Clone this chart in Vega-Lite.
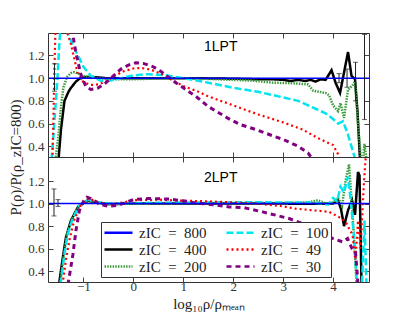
{
  "$schema": "https://vega.github.io/schema/vega-lite/v6.json",
  "background": "white",
  "padding": {"left": 7, "top": 32, "right": 5, "bottom": 5},
  "bounds": "flush",
  "config": {
    "view": {"stroke": "#333", "strokeWidth": 1},
    "axis": {"labelFont": "Liberation Serif", "labelFontSize": 13, "labelColor": "#333", "titleFont": "Liberation Serif", "titleFontSize": 15, "titleFontWeight": "normal", "titleColor": "#222", "domain": false, "grid": false, "tickColor": "#444", "tickSize": -5, "labelPadding": 9},
    "legend": {"labelFont": "Liberation Serif", "labelFontSize": 15, "labelColor": "#222"}
  },
  "datasets": {
    "top": [
      {"z":"800","x":-1.69,"y":1.0},{"z":"800","x":4.72,"y":1.0},
      {"z":"400","x":-1.5,"y":0.28},{"z":"400","x":-1.45,"y":0.55},{"z":"400","x":-1.38,"y":0.8},{"z":"400","x":-1.3,"y":0.88},{"z":"400","x":-1.25,"y":0.915},{"z":"400","x":-1.15,"y":0.97},{"z":"400","x":-1.08,"y":0.995},{"z":"400","x":-0.95,"y":1.01},{"z":"400","x":-0.8,"y":1.01},{"z":"400","x":-0.5,"y":0.998},{"z":"400","x":0,"y":1.0},{"z":"400","x":0.5,"y":1.0},{"z":"400","x":1.0,"y":1.0},{"z":"400","x":1.5,"y":0.998},{"z":"400","x":2.0,"y":0.995},{"z":"400","x":2.5,"y":0.99},{"z":"400","x":2.8,"y":0.99},{"z":"400","x":3.0,"y":0.985},{"z":"400","x":3.15,"y":0.975},{"z":"400","x":3.3,"y":0.985},{"z":"400","x":3.45,"y":0.975},{"z":"400","x":3.55,"y":0.985},{"z":"400","x":3.65,"y":0.97},{"z":"400","x":3.75,"y":0.99},{"z":"400","x":3.85,"y":0.985},{"z":"400","x":3.97,"y":1.07},{"z":"400","x":4.05,"y":0.96},{"z":"400","x":4.14,"y":0.87},{"z":"400","x":4.22,"y":1.05},{"z":"400","x":4.3,"y":1.23},{"z":"400","x":4.37,"y":1.02},{"z":"400","x":4.44,"y":0.99},{"z":"400","x":4.49,"y":0.7},{"z":"400","x":4.54,"y":0.28},
      {"z":"200","x":-1.56,"y":0.28},{"z":"200","x":-1.5,"y":0.5},{"z":"200","x":-1.45,"y":0.75},{"z":"200","x":-1.4,"y":0.92},{"z":"200","x":-1.33,"y":1.01},{"z":"200","x":-1.25,"y":1.045},{"z":"200","x":-1.18,"y":1.053},{"z":"200","x":-1.1,"y":1.04},{"z":"200","x":-1.0,"y":1.02},{"z":"200","x":-0.85,"y":1.005},{"z":"200","x":-0.6,"y":0.995},{"z":"200","x":-0.3,"y":0.99},{"z":"200","x":0,"y":0.99},{"z":"200","x":0.5,"y":0.997},{"z":"200","x":1.0,"y":1.0},{"z":"200","x":1.5,"y":0.993},{"z":"200","x":2.0,"y":0.985},{"z":"200","x":2.4,"y":0.978},{"z":"200","x":2.8,"y":0.96},{"z":"200","x":3.2,"y":0.955},{"z":"200","x":3.5,"y":0.945},{"z":"200","x":3.6,"y":0.89},{"z":"200","x":3.75,"y":0.877},{"z":"200","x":3.85,"y":0.87},{"z":"200","x":3.92,"y":0.85},{"z":"200","x":4.0,"y":0.76},{"z":"200","x":4.1,"y":0.71},{"z":"200","x":4.15,"y":0.78},{"z":"200","x":4.22,"y":0.65},{"z":"200","x":4.3,"y":0.9},{"z":"200","x":4.38,"y":0.93},{"z":"200","x":4.44,"y":0.97},{"z":"200","x":4.5,"y":0.6},{"z":"200","x":4.56,"y":0.28},{"z":"200","x":4.6,"y":0.28},{"z":"200","x":4.63,"y":0.42},{"z":"200","x":4.67,"y":0.28},
      {"z":"100","x":-1.64,"y":0.28},{"z":"100","x":-1.6,"y":0.5},{"z":"100","x":-1.56,"y":0.75},{"z":"100","x":-1.52,"y":1.0},{"z":"100","x":-1.49,"y":1.25},{"z":"100","x":-1.46,"y":1.45},{"z":"100","x":-1.36,"y":1.45},{"z":"100","x":-1.3,"y":1.38},{"z":"100","x":-1.22,"y":1.3},{"z":"100","x":-1.15,"y":1.235},{"z":"100","x":-1.0,"y":1.1},{"z":"100","x":-0.85,"y":1.02},{"z":"100","x":-0.65,"y":0.977},{"z":"100","x":-0.45,"y":0.98},{"z":"100","x":-0.25,"y":1.0},{"z":"100","x":0,"y":1.025},{"z":"100","x":0.3,"y":1.035},{"z":"100","x":0.65,"y":1.025},{"z":"100","x":1.0,"y":1.0},{"z":"100","x":1.5,"y":0.96},{"z":"100","x":2.0,"y":0.915},{"z":"100","x":2.5,"y":0.88},{"z":"100","x":3.0,"y":0.83},{"z":"100","x":3.3,"y":0.8},{"z":"100","x":3.6,"y":0.74},{"z":"100","x":3.85,"y":0.69},{"z":"100","x":4.0,"y":0.64},{"z":"100","x":4.1,"y":0.6},{"z":"100","x":4.2,"y":0.62},{"z":"100","x":4.3,"y":0.5},{"z":"100","x":4.4,"y":0.35},{"z":"100","x":4.45,"y":0.28},
      {"z":"49","x":-1.62,"y":0.28},{"z":"49","x":-1.6,"y":0.7},{"z":"49","x":-1.58,"y":1.1},{"z":"49","x":-1.56,"y":1.45},{"z":"49","x":-1.4,"y":1.5},{"z":"49","x":-1.25,"y":1.3},{"z":"49","x":-1.12,"y":1.05},{"z":"49","x":-1.0,"y":0.965},{"z":"49","x":-0.85,"y":0.94},{"z":"49","x":-0.7,"y":0.945},{"z":"49","x":-0.55,"y":0.97},{"z":"49","x":-0.4,"y":1.015},{"z":"49","x":-0.2,"y":1.06},{"z":"49","x":0,"y":1.085},{"z":"49","x":0.15,"y":1.09},{"z":"49","x":0.35,"y":1.075},{"z":"49","x":0.55,"y":1.04},{"z":"49","x":0.75,"y":0.99},{"z":"49","x":1.0,"y":0.93},{"z":"49","x":1.25,"y":0.89},{"z":"49","x":1.5,"y":0.84},{"z":"49","x":2.0,"y":0.76},{"z":"49","x":2.5,"y":0.68},{"z":"49","x":3.0,"y":0.61},{"z":"49","x":3.4,"y":0.545},{"z":"49","x":3.7,"y":0.47},{"z":"49","x":4.0,"y":0.41},{"z":"49","x":4.1,"y":0.33},{"z":"49","x":4.15,"y":0.28},
      {"z":"30","x":-1.35,"y":1.5},{"z":"30","x":-1.22,"y":1.4},{"z":"30","x":-1.15,"y":1.22},{"z":"30","x":-1.05,"y":1.03},{"z":"30","x":-0.95,"y":0.925},{"z":"30","x":-0.85,"y":0.9},{"z":"30","x":-0.72,"y":0.91},{"z":"30","x":-0.55,"y":0.96},{"z":"30","x":-0.4,"y":1.02},{"z":"30","x":-0.25,"y":1.08},{"z":"30","x":-0.1,"y":1.115},{"z":"30","x":0.05,"y":1.135},{"z":"30","x":0.2,"y":1.13},{"z":"30","x":0.4,"y":1.1},{"z":"30","x":0.55,"y":1.06},{"z":"30","x":0.7,"y":1.01},{"z":"30","x":0.85,"y":0.96},{"z":"30","x":1.05,"y":0.9},{"z":"30","x":1.25,"y":0.84},{"z":"30","x":1.5,"y":0.75},{"z":"30","x":1.9,"y":0.645},{"z":"30","x":2.15,"y":0.59},{"z":"30","x":2.5,"y":0.54},{"z":"30","x":2.8,"y":0.49},{"z":"30","x":3.0,"y":0.46},{"z":"30","x":3.3,"y":0.4},{"z":"30","x":3.5,"y":0.34},{"z":"30","x":3.6,"y":0.28}
    ],
    "bot": [
      {"z":"800","x":-1.69,"y":1.0},{"z":"800","x":4.72,"y":1.0},
      {"z":"400","x":-1.49,"y":0.28},{"z":"400","x":-1.42,"y":0.5},{"z":"400","x":-1.35,"y":0.7},{"z":"400","x":-1.25,"y":0.85},{"z":"400","x":-1.11,"y":0.97},{"z":"400","x":-1.0,"y":1.005},{"z":"400","x":-0.9,"y":1.025},{"z":"400","x":-0.75,"y":1.01},{"z":"400","x":-0.5,"y":0.995},{"z":"400","x":0,"y":1.0},{"z":"400","x":1,"y":1.0},{"z":"400","x":2,"y":1.0},{"z":"400","x":3,"y":1.0},{"z":"400","x":3.5,"y":0.998},{"z":"400","x":4.0,"y":1.0},{"z":"400","x":4.1,"y":1.03},{"z":"400","x":4.16,"y":0.95},{"z":"400","x":4.22,"y":0.8},{"z":"400","x":4.3,"y":0.94},{"z":"400","x":4.38,"y":1.03},{"z":"400","x":4.44,"y":0.9},{"z":"400","x":4.5,"y":1.28},{"z":"400","x":4.53,"y":1.25},{"z":"400","x":4.57,"y":0.28},
      {"z":"200","x":-1.47,"y":0.28},{"z":"200","x":-1.4,"y":0.52},{"z":"200","x":-1.33,"y":0.72},{"z":"200","x":-1.23,"y":0.86},{"z":"200","x":-1.1,"y":0.975},{"z":"200","x":-1.0,"y":1.01},{"z":"200","x":-0.9,"y":1.03},{"z":"200","x":-0.75,"y":1.01},{"z":"200","x":-0.5,"y":0.995},{"z":"200","x":0,"y":1.0},{"z":"200","x":1,"y":1.005},{"z":"200","x":2,"y":1.005},{"z":"200","x":3,"y":1.005},{"z":"200","x":3.5,"y":1.01},{"z":"200","x":3.7,"y":1.03},{"z":"200","x":3.85,"y":1.0},{"z":"200","x":4.0,"y":1.01},{"z":"200","x":4.1,"y":1.05},{"z":"200","x":4.18,"y":0.98},{"z":"200","x":4.25,"y":1.2},{"z":"200","x":4.32,"y":1.35},{"z":"200","x":4.36,"y":1.1},{"z":"200","x":4.42,"y":0.7},{"z":"200","x":4.47,"y":0.28},
      {"z":"100","x":-1.46,"y":0.28},{"z":"100","x":-1.39,"y":0.52},{"z":"100","x":-1.32,"y":0.72},{"z":"100","x":-1.22,"y":0.86},{"z":"100","x":-1.09,"y":0.975},{"z":"100","x":-0.99,"y":1.015},{"z":"100","x":-0.9,"y":1.035},{"z":"100","x":-0.75,"y":1.015},{"z":"100","x":-0.5,"y":1.0},{"z":"100","x":0,"y":1.005},{"z":"100","x":1,"y":1.01},{"z":"100","x":2,"y":1.012},{"z":"100","x":3,"y":1.01},{"z":"100","x":3.5,"y":1.01},{"z":"100","x":3.8,"y":1.0},{"z":"100","x":3.9,"y":0.99},{"z":"100","x":4.0,"y":1.05},{"z":"100","x":4.08,"y":1.02},{"z":"100","x":4.15,"y":1.15},{"z":"100","x":4.22,"y":1.1},{"z":"100","x":4.3,"y":1.24},{"z":"100","x":4.36,"y":1.0},{"z":"100","x":4.42,"y":0.7},{"z":"100","x":4.48,"y":0.28},{"z":"100","x":4.58,"y":0.28},{"z":"100","x":4.63,"y":0.85},{"z":"100","x":4.67,"y":0.28},
      {"z":"49","x":-1.42,"y":0.28},{"z":"49","x":-1.35,"y":0.5},{"z":"49","x":-1.27,"y":0.7},{"z":"49","x":-1.18,"y":0.86},{"z":"49","x":-1.06,"y":0.98},{"z":"49","x":-0.95,"y":1.03},{"z":"49","x":-0.88,"y":1.045},{"z":"49","x":-0.75,"y":1.02},{"z":"49","x":-0.5,"y":0.99},{"z":"49","x":-0.2,"y":1.01},{"z":"49","x":0,"y":1.03},{"z":"49","x":0.5,"y":1.035},{"z":"49","x":1,"y":1.025},{"z":"49","x":1.5,"y":1.02},{"z":"49","x":2,"y":1.01},{"z":"49","x":2.5,"y":1.0},{"z":"49","x":3.0,"y":0.975},{"z":"49","x":3.25,"y":0.955},{"z":"49","x":3.6,"y":0.94},{"z":"49","x":3.92,"y":0.926},{"z":"49","x":4.12,"y":0.88},{"z":"49","x":4.25,"y":0.84},{"z":"49","x":4.39,"y":0.72},{"z":"49","x":4.45,"y":0.5},{"z":"49","x":4.5,"y":0.85},{"z":"49","x":4.55,"y":0.6},{"z":"49","x":4.62,"y":1.2},{"z":"49","x":4.66,"y":1.45},
      {"z":"30","x":-1.31,"y":0.28},{"z":"30","x":-1.21,"y":0.55},{"z":"30","x":-1.15,"y":0.76},{"z":"30","x":-1.08,"y":0.94},{"z":"30","x":-0.98,"y":1.04},{"z":"30","x":-0.93,"y":1.057},{"z":"30","x":-0.85,"y":1.045},{"z":"30","x":-0.7,"y":1.0},{"z":"30","x":-0.5,"y":0.975},{"z":"30","x":-0.3,"y":0.985},{"z":"30","x":0,"y":1.035},{"z":"30","x":0.3,"y":1.045},{"z":"30","x":0.7,"y":1.04},{"z":"30","x":1.0,"y":1.025},{"z":"30","x":1.25,"y":1.005},{"z":"30","x":1.6,"y":0.99},{"z":"30","x":1.92,"y":0.97},{"z":"30","x":2.2,"y":0.965},{"z":"30","x":2.59,"y":0.926},{"z":"30","x":3.12,"y":0.867},{"z":"30","x":3.4,"y":0.82},{"z":"30","x":3.65,"y":0.763},{"z":"30","x":3.99,"y":0.69},{"z":"30","x":4.19,"y":0.66},{"z":"30","x":4.29,"y":0.69},{"z":"30","x":4.38,"y":0.6},{"z":"30","x":4.45,"y":0.57},{"z":"30","x":4.5,"y":0.28}
    ],
    "errTop": [
      {"x":-1.58,"lo":0.885,"hi":1.127},{"x":4.12,"lo":0.96,"hi":1.04},{"x":4.28,"lo":0.92,"hi":1.08},{"x":4.45,"lo":0.8,"hi":1.14},{"x":4.63,"lo":0.635,"hi":1.385}
    ],
    "errBot": [
      {"x":-1.59,"lo":0.89,"hi":1.13},{"x":-1.51,"lo":0.975,"hi":1.035}
    ],
    "lblTop": [{"x":1.75,"y":1.275,"t":"1LPT"}],
    "lblBot": [{"x":1.75,"y":1.228,"t":"2LPT"}]
  },
  "spacing": 0,
  "resolve": {
    "scale": {"color": "independent", "strokeDash": "independent"},
    "legend": {"color": "independent", "strokeDash": "independent"}
  },
  "vconcat": [
    {
      "width": 321, "height": 124,
      "layer": [
        {
          "data": {"name": "top"},
          "encoding": {
            "x": {"field": "x", "type": "quantitative", "scale": {"domain": [-1.71, 4.72], "nice": false, "zero": false}, "axis": {"orient": "bottom", "values": [-1,0,1,2,3,4], "labels": false, "title": null}},
            "y": {"field": "y", "type": "quantitative", "scale": {"domain": [0.305, 1.398], "nice": false, "zero": false}, "axis": {"orient": "left", "values": [0.4,0.6,0.8,1.0,1.2], "format": ".1f", "title": "P(ρ)/P(ρ_zIC=800)", "titleX": -33, "titleY": 124, "titleAngle": -90, "titleBaseline": "middle", "titleAlign": "center"}},
            "color": {"field": "z", "type": "nominal", "scale": {"domain": ["800","400","200","100","49","30"], "range": ["#0000ff","#000000","#3c9d3c","#00e5ee","#ff0000","#800080"]}, "legend": null},
            "strokeDash": {"field": "z", "type": "nominal", "scale": {"domain": ["800","400","200","100","49","30"], "range": [[1,0],[1,0],[1.5,1.2],[7,3],[2,3],[5,4]]}, "legend": null}
          },
          "layer": [
            {"transform": [{"filter": "datum.z === '400'"}], "mark": {"type": "line", "clip": true, "strokeWidth": 2.5}},
            {"transform": [{"filter": "datum.z === '200'"}], "mark": {"type": "line", "clip": true, "strokeWidth": 2.5}},
            {"transform": [{"filter": "datum.z === '100'"}], "mark": {"type": "line", "clip": true, "strokeWidth": 2.5}},
            {"transform": [{"filter": "datum.z === '49'"}], "mark": {"type": "line", "clip": true, "strokeWidth": 2.2}},
            {"transform": [{"filter": "datum.z === '30'"}], "mark": {"type": "line", "clip": true, "strokeWidth": 3}},
            {"transform": [{"filter": "datum.z === '800'"}], "mark": {"type": "line", "clip": true, "strokeWidth": 1.5}}
          ]
        },
        {
          "data": {"name": "errTop"},
          "mark": {"type": "errorbar", "ticks": true, "color": "#222", "size": 5, "thickness": 1},
          "encoding": {
            "x": {"field": "x", "type": "quantitative", "axis": null},
            "y": {"field": "lo", "type": "quantitative", "axis": null},
            "y2": {"field": "hi"}
          }
        },
        {
          "data": {"name": "lblTop"},
          "mark": {"type": "text", "font": "Liberation Sans", "fontSize": 14, "color": "#000", "align": "center", "baseline": "middle"},
          "encoding": {
            "x": {"field": "x", "type": "quantitative", "axis": {"orient": "top", "values": [-1,0,1,2,3,4], "labels": false, "title": null}},
            "y": {"field": "y", "type": "quantitative", "axis": {"orient": "right", "values": [0.4,0.6,0.8,1.0,1.2], "labels": false, "title": null}},
            "text": {"field": "t"}
          }
        }
      ],
      "resolve": {"axis": {"x": "independent", "y": "independent"}}
    },
    {
      "width": 321, "height": 125,
      "layer": [
        {
          "data": {"name": "bot"},
          "encoding": {
            "x": {"field": "x", "type": "quantitative", "scale": {"domain": [-1.71, 4.72], "nice": false, "zero": false}, "axis": {"orient": "bottom", "values": [-1,0,1,2,3,4], "format": "d", "title": "log₁₀ρ/ρₘₑₐₙ", "titlePadding": 3, "labelPadding": 3}},
            "y": {"field": "y", "type": "quantitative", "scale": {"domain": [0.303, 1.414], "nice": false, "zero": false}, "axis": {"orient": "left", "values": [0.4,0.6,0.8,1.0,1.2], "format": ".1f", "title": null}},
            "color": {"field": "z", "type": "nominal", "scale": {"domain": ["800","400","200","100","49","30"], "range": ["#0000ff","#000000","#3c9d3c","#00e5ee","#ff0000","#800080"]},
              "legend": {"orient": "none", "legendX": 53, "legendY": 65, "columns": 2, "title": null, "symbolType": "M-1,0H3", "symbolSize": 196, "symbolStrokeWidth": 2.5, "labelExpr": "'zIC\u2002=\u2002' + datum.label", "strokeColor": "#333", "fillColor": "white", "padding": 2, "rowPadding": 0, "columnPadding": 14, "labelOffset": 19}},
            "strokeDash": {"field": "z", "type": "nominal", "scale": {"domain": ["800","400","200","100","49","30"], "range": [[1,0],[1,0],[1.5,1.2],[7,3],[2,3],[5,4]]},
              "legend": {"orient": "none", "legendX": 53, "legendY": 65, "columns": 2, "title": null, "symbolType": "M-1,0H3", "symbolSize": 196, "symbolStrokeWidth": 2.5, "labelExpr": "'zIC\u2002=\u2002' + datum.label", "strokeColor": "#333", "fillColor": "white", "padding": 2, "rowPadding": 0, "columnPadding": 14, "labelOffset": 19}}
          },
          "layer": [
            {"transform": [{"filter": "datum.z === '400'"}], "mark": {"type": "line", "clip": true, "strokeWidth": 2.5}},
            {"transform": [{"filter": "datum.z === '200'"}], "mark": {"type": "line", "clip": true, "strokeWidth": 2.5}},
            {"transform": [{"filter": "datum.z === '100'"}], "mark": {"type": "line", "clip": true, "strokeWidth": 2.5}},
            {"transform": [{"filter": "datum.z === '49'"}], "mark": {"type": "line", "clip": true, "strokeWidth": 2.2}},
            {"transform": [{"filter": "datum.z === '30'"}], "mark": {"type": "line", "clip": true, "strokeWidth": 3}},
            {"transform": [{"filter": "datum.z === '800'"}], "mark": {"type": "line", "clip": true, "strokeWidth": 1.5}}
          ]
        },
        {
          "data": {"name": "errBot"},
          "mark": {"type": "errorbar", "ticks": true, "color": "#222", "size": 5, "thickness": 1},
          "encoding": {
            "x": {"field": "x", "type": "quantitative", "axis": null},
            "y": {"field": "lo", "type": "quantitative", "axis": null},
            "y2": {"field": "hi"}
          }
        },
        {
          "data": {"name": "lblBot"},
          "mark": {"type": "text", "font": "Liberation Sans", "fontSize": 14, "color": "#000", "align": "center", "baseline": "middle"},
          "encoding": {
            "x": {"field": "x", "type": "quantitative", "axis": {"orient": "top", "values": [-1,0,1,2,3,4], "labels": false, "title": null}},
            "y": {"field": "y", "type": "quantitative", "axis": {"orient": "right", "values": [0.4,0.6,0.8,1.0,1.2], "labels": false, "title": null}},
            "text": {"field": "t"}
          }
        }
      ],
      "resolve": {"axis": {"x": "independent", "y": "independent"}}
    }
  ]
}
